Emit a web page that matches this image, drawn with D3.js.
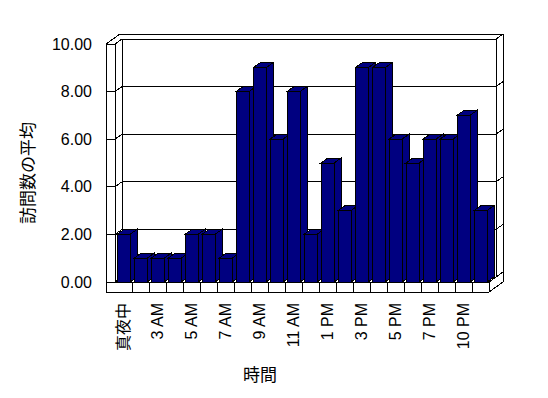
<!DOCTYPE html>
<html>
<head>
<meta charset="utf-8">
<script src="https://cdn.jsdelivr.net/npm/d3@7"></script>
<style>
  body { margin: 0; background: #fff; }
  text { font-family: "Liberation Sans", "Noto Sans CJK JP", sans-serif; fill: #000; }
</style>
</head>
<body>
<div id="chart"></div>
<script>
const categories = ["真夜中", "1 AM", "3 AM", "4 AM", "5 AM", "6 AM", "7 AM", "8 AM", "9 AM", "10 AM", "11 AM",
    "正午", "1 PM", "2 PM", "3 PM", "4 PM", "5 PM", "6 PM", "7 PM", "8 PM", "10 PM", "11 PM"];
const values = [2, 1, 1, 1, 2, 2, 1, 8, 9, 6, 8, 2, 5, 3, 9, 9, 6, 5, 6, 6, 7, 3];
const yTicks = [0, 2, 4, 6, 8, 10];
const yTitle = "訪問数の平均";
const xTitle = "時間";

const width = 548, height = 398;
const svg = d3.select("#chart").append("svg")
    .attr("width", width)
    .attr("height", height)
    .attr("shape-rendering", "crispEdges");

const x = d3.scaleBand().domain(categories).range([115, 489])
    .paddingInner(4 / 17).paddingOuter(2 / 17);
const y = d3.scaleLinear().domain([0, 10]).range([282, 44]);

// depth of the 3D box, wall and floor thickness
const dx = 7, dy = -5, wall = 9, floor = 10;
const L = 115, R = 489, B = y(0), T = y(10);
const bw = x.bandwidth();

const frame = svg.append("g").attr("fill", "none").attr("stroke", "#000").attr("stroke-width", 1);

function line(pts) {
    frame.append("path").attr("d", d3.line()(pts));
}

// outer outline of walls and floor
frame.append("path")
    .attr("fill", "#fff")
    .attr("d", d3.line()([
        [L - wall, B + floor], [L - wall, T], [L - wall + 2 * dx, T + 2 * dy],
        [R + 2 * dx, T + 2 * dy], [R + 2 * dx, B + floor + 2 * dy], [R, B + floor]
    ]) + "Z");

// back wall inner face
line([[L + dx, B + dy], [L + dx, T + dy], [R + dx, T + dy], [R + dx, B + dy]]);
// left wall front face and top
line([[L, B], [L, T]]);
line([[L - wall, T], [L, T], [L + dx, T + dy]]);
// top right corner of back wall
line([[R + dx, T + dy], [R + 2 * dx, T + 2 * dy]]);

// gridlines on back wall, ticks on the walls
yTicks.forEach(v => {
    const yf = y(v);
    line([[L + dx, yf + dy], [R + dx, yf + dy]]);
    line([[L - wall, yf], [L, yf], [L + dx, yf + dy]]);
    line([[R + dx, yf + dy], [R + 2 * dx, yf + 2 * dy]]);
});

// floor
line([[L - wall, B], [R, B], [R + dx, B + dy]]);
line([[R, B], [R, B + floor]]);
for (let k = 1; k < categories.length; k++) {
    const xs = L + k * x.step();
    line([[xs, B], [xs, B + floor]]);
}

// bars
const bars = svg.append("g").attr("fill", "#000080").attr("stroke", "#000").attr("stroke-width", 1);
categories.forEach((c, i) => {
    const xl = x(c), xr = xl + bw, yt = y(values[i]), yb = y(0);
    const g = bars.append("g");
    g.append("rect").attr("x", xl).attr("y", yt).attr("width", bw).attr("height", yb - yt);
    g.append("path").attr("d", d3.line()([[xl, yt], [xr, yt], [xr + dx, yt + dy], [xl + dx, yt + dy]]) + "Z");
    g.append("path").attr("d", d3.line()([[xr, yt], [xr + dx, yt + dy], [xr + dx, yb + dy], [xr, yb]]) + "Z");
});

// y tick labels
svg.append("g").selectAll("text")
    .data(yTicks)
    .enter().append("text")
    .attr("x", 92)
    .attr("y", d => y(d))
    .attr("dy", "0.35em")
    .attr("text-anchor", "end")
    .attr("font-size", 16)
    .text(d => d3.format(".2f")(d));

// x tick labels, every other category
svg.append("g").selectAll("text")
    .data(categories.filter((c, i) => i % 2 === 0))
    .enter().append("text")
    .attr("transform", d => `translate(${x(d) + bw / 2},303) rotate(-90)`)
    .attr("dy", "0.35em")
    .attr("text-anchor", "end")
    .attr("font-size", 16)
    .text(d => d);

// axis titles
svg.append("text")
    .attr("transform", "translate(28,173) rotate(-90)")
    .attr("dy", "0.35em")
    .attr("text-anchor", "middle")
    .attr("font-size", 17)
    .text(yTitle);

svg.append("text")
    .attr("x", 260)
    .attr("y", 375)
    .attr("dy", "0.35em")
    .attr("text-anchor", "middle")
    .attr("font-size", 17)
    .text(xTitle);
</script>
</body>
</html>
